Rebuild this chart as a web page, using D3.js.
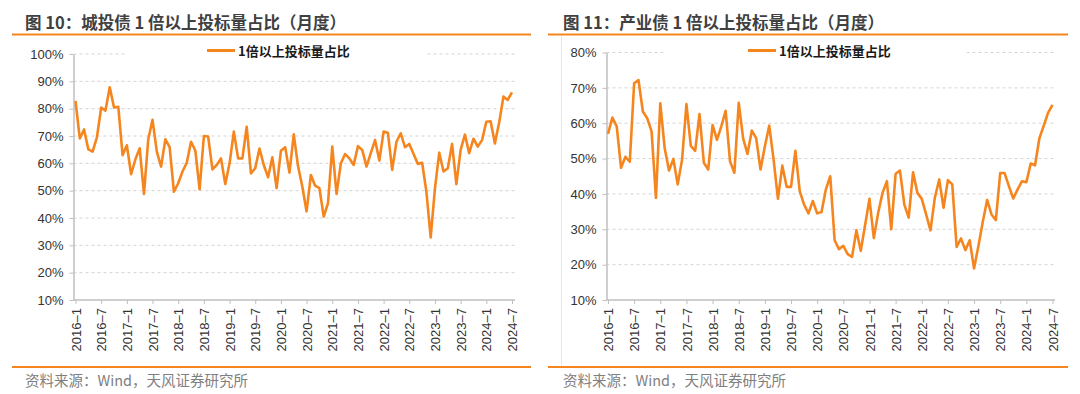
<!DOCTYPE html>
<html>
<head>
<meta charset="utf-8">
<script src="https://cdn.jsdelivr.net/npm/d3@7"></script>
<style>
  body { margin: 0; background: #fff; }
  svg { display: block; font-family: "Liberation Sans", Arial, sans-serif; }
</style>
</head>
<body>
<svg id="chart" width="1080" height="394"></svg>
<script>
// tick labels on the x axis (every 6 months, 2016-1 .. 2024-7)
const tickLabels = ["2016–1", "2016–7", "2017–1", "2017–7", "2018–1", "2018–7", "2019–1", "2019–7",
    "2020–1", "2020–7", "2021–1", "2021–7", "2022–1", "2022–7", "2023–1", "2023–7", "2024–1", "2024–7"];

// monthly share (%) of bids >= 1x, 城投债
const chengtouShare = [
    82.8, 69.1, 72.4, 65.1, 64.3, 69.5, 80.4, 79.3, 87.8, 80.4, 80.7, 63.0,
    66.6, 56.0, 61.5, 65.5, 48.8, 68.8, 75.9, 64.3, 58.8, 68.8, 65.9, 49.6,
    52.7, 57.0, 60.2, 67.9, 64.7, 50.5, 70.0, 69.8, 57.8, 59.4, 61.8, 52.4,
    60.0, 71.6, 61.8, 61.8, 73.4, 56.3, 58.2, 65.4, 59.4, 54.9, 62.2, 50.9,
    64.6, 65.9, 56.6, 70.6, 59.0, 51.5, 42.4, 55.7, 51.8, 50.9, 40.5, 45.4,
    66.1, 48.8, 60.0, 63.4, 61.8, 59.4, 66.3, 64.9, 58.8, 63.7, 68.5, 61.0,
    71.6, 71.2, 57.6, 67.9, 71.0, 65.9, 67.1, 63.4, 59.8, 60.2, 49.6, 32.9,
    50.9, 63.9, 57.0, 58.2, 67.1, 52.4, 64.9, 70.5, 63.7, 69.0, 66.1, 68.5,
    75.2, 75.4, 67.3, 74.9, 84.4, 83.2, 86.0
];

// monthly share (%) of bids >= 1x, 产业债
const chanyeShare = [
    57.0, 61.6, 59.1, 47.4, 50.5, 49.1, 71.3, 72.2, 63.3, 61.4, 57.7, 38.9,
    65.6, 53.0, 46.6, 49.9, 42.7, 49.7, 65.4, 53.6, 52.2, 62.6, 48.8, 46.9,
    59.5, 55.3, 59.1, 63.5, 49.2, 46.0, 65.8, 55.8, 51.3, 57.9, 55.8, 46.9,
    53.5, 59.3, 49.7, 38.6, 48.0, 42.0, 42.0, 52.2, 40.8, 37.0, 34.5, 38.0,
    34.5, 34.9, 41.3, 45.0, 26.9, 24.4, 25.3, 23.0, 22.2, 29.7, 23.9, 31.2,
    38.6, 27.5, 34.7, 40.3, 43.6, 30.0, 45.7, 46.6, 37.0, 33.3, 46.1, 40.3,
    38.6, 34.2, 29.7, 38.9, 44.1, 36.1, 43.9, 42.7, 25.0, 27.4, 24.1, 26.9,
    18.9, 25.3, 32.1, 38.3, 34.2, 32.6, 45.9, 45.9, 42.2, 38.7, 41.3, 43.6,
    43.3, 48.6, 48.1, 55.8, 59.3, 63.0, 65.2
];

const legendName = "1倍以上投标量占比";
const sourceText = "资料来源：Wind，天风证券研究所";

const orange = "#F5861F";
const axisGray = "#bfbfbf";
const cjkFont = '"Noto Sans CJK SC", "Noto Sans", sans-serif';

const svg = d3.select("#chart");

function drawPanel(p) {
    const g = svg.append("g");

    // Title + orange rules
    g.append("text")
        .attr("x", p.titleX).attr("y", 29)
        .attr("font-family", cjkFont).attr("font-size", 16.5).attr("font-weight", 700)
        .attr("fill", "#404040")
        .text(p.title);
    g.append("line")
        .attr("x1", p.frameX0).attr("x2", p.frameX1).attr("y1", 34.5).attr("y2", 34.5)
        .attr("stroke", orange).attr("stroke-width", 2);
    g.append("line")
        .attr("x1", p.frameX0).attr("x2", p.frameX1).attr("y1", 367).attr("y2", 367)
        .attr("stroke", orange).attr("stroke-width", 2);
    g.append("text")
        .attr("x", p.titleX).attr("y", 386)
        .attr("font-family", cjkFont).attr("font-size", 14.5)
        .attr("fill", "#808080")
        .text(sourceText);

    // Scales
    const xScale = d3.scaleLinear().domain([0, p.values.length - 1]).range([p.x0, p.x1]);
    const yScale = d3.scaleLinear().domain([10, p.yMax]).range([300, p.yTop]);
    const yTicks = d3.range(10, p.yMax + 1, 10);

    // Dashed gridlines
    g.append("g")
        .selectAll("line")
        .data(yTicks.filter(d => d > 10))
        .join("line")
        .attr("x1", p.axisX).attr("x2", p.gridEnd)
        .attr("y1", d => yScale(d)).attr("y2", d => yScale(d))
        .attr("stroke", "#d4d4d4").attr("stroke-dasharray", "3,3");

    // Y axis
    const yAxis = g.append("g")
        .attr("transform", `translate(${p.axisX},0)`)
        .call(d3.axisLeft(yScale).tickValues(yTicks).tickSize(4).tickSizeOuter(0).tickPadding(6)
            .tickFormat(d => d + "%"));
    yAxis.select(".domain").attr("stroke", axisGray).attr("stroke-width", 1.5);
    yAxis.selectAll(".tick line").attr("stroke", axisGray);
    yAxis.selectAll(".tick text")
        .attr("font-family", "Liberation Sans, Arial, sans-serif")
        .attr("font-size", 13).attr("fill", "#333");

    // X axis
    const xAxis = g.append("g")
        .attr("transform", "translate(0,300)")
        .call(d3.axisBottom(xScale).tickValues(d3.range(0, p.values.length, 6)).tickSize(4)
            .tickSizeOuter(0).tickFormat((d, i) => tickLabels[i]));
    xAxis.select(".domain").remove();
    xAxis.append("line")
        .attr("x1", p.axisX).attr("x2", p.gridEnd)
        .attr("stroke", axisGray).attr("stroke-width", 1.5);
    xAxis.selectAll(".tick line").attr("stroke", axisGray);
    xAxis.selectAll(".tick text")
        .attr("font-family", "Liberation Sans, Arial, sans-serif")
        .attr("font-size", 13).attr("fill", "#333")
        .attr("transform", "rotate(-90)")
        .attr("text-anchor", "end")
        .attr("x", -8).attr("y", 0).attr("dy", "0.35em");

    // Legend (covers the top gridline)
    g.append("rect")
        .attr("x", p.legendBox[0]).attr("width", p.legendBox[1] - p.legendBox[0])
        .attr("y", 43).attr("height", 16)
        .attr("fill", "#fff");
    g.append("line")
        .attr("x1", p.legendX).attr("x2", p.legendX + 28)
        .attr("y1", 50.5).attr("y2", 50.5)
        .attr("stroke", orange).attr("stroke-width", 3);
    g.append("text")
        .attr("x", p.legendX + 31).attr("y", 55.5)
        .attr("font-family", cjkFont).attr("font-size", 13).attr("font-weight", 700)
        .attr("fill", "#1a1a1a")
        .text(legendName);

    // Line
    g.append("path")
        .datum(p.values)
        .attr("fill", "none")
        .attr("stroke", orange)
        .attr("stroke-width", 2.6)
        .attr("stroke-linejoin", "round")
        .attr("d", d3.line()
            .x((d, i) => xScale(i))
            .y(d => yScale(d)));
}

drawPanel({
    title: "图 10：城投债 1 倍以上投标量占比（月度）",
    values: chengtouShare,
    yMax: 100, yTop: 54,
    titleX: 25, frameX0: 12, frameX1: 531,
    axisX: 73.5, gridEnd: 515, x0: 75.5, x1: 512,
    legendBox: [126, 425], legendX: 207
});

// faint separator at the left of the second panel
svg.append("line")
    .attr("x1", 561.5).attr("x2", 561.5).attr("y1", 35).attr("y2", 366)
    .attr("stroke", "#e6e6e6");

drawPanel({
    title: "图 11：产业债 1 倍以上投标量占比（月度）",
    values: chanyeShare,
    yMax: 80, yTop: 52.5,
    titleX: 563, frameX0: 548, frameX1: 1068,
    axisX: 606.5, gridEnd: 1055, x0: 608, x1: 1052.5,
    legendBox: [666, 967], legendX: 748
});
</script>
</body>
</html>
